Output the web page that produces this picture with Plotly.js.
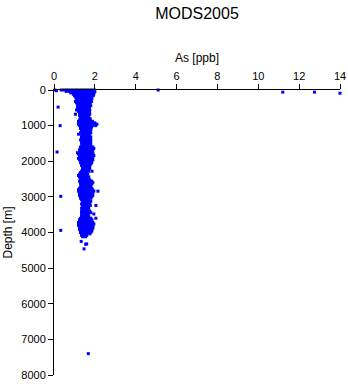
<!DOCTYPE html>
<html>
<head>
<meta charset="utf-8">
<script src="https://cdn.plot.ly/plotly-3.0.1.min.js"></script>
<style>html,body{margin:0;padding:0;background:#fff;}#chart{width:348px;height:384px;}</style>
</head>
<body>
<div id="chart"></div>
<script>
// Dense cloud: depth rows (m) and the As values (ppb) read at each row
const cloudDepth = [0,40,80,120,160,200,240,280,320,360,400,440,480,520,560,600,640,680,720,760,
800,840,880,920,960,1000,1040,1080,1120,1160,1200,1240,1280,1320,1360,1400,1440,1480,1520,1560,
1600,1640,1680,1720,1760,1800,1840,1880,1920,1960,2000,2040,2080,2120,2160,2200,2240,2280,2320,2360,
2400,2440,2480,2520,2560,2600,2640,2680,2720,2760,2800,2840,2880,2920,2960,3000,3040,3080,3120,3160,
3200,3240,3280,3320,3360,3400,3440,3480,3520,3560,3600,3640,3680,3720,3760,3800,3840,3880,3920,3960,
4000,4040,4080,4120];
const cloudAs = [
[0.35,0.48,0.6,0.72,0.85,0.98,1.1,1.22,1.35,1.48,1.6,1.72,1.85,1.98],
[0.6,0.75,0.88,1.0,1.12,1.25,1.38,1.5,1.62,1.75,1.88,2.0],
[0.82,0.95,1.08,1.2,1.33,1.46,1.58,1.7,1.83,1.96],
[0.95,1.08,1.2,1.33,1.45,1.58,1.7,1.82,1.94],
[1.0,1.13,1.26,1.38,1.5,1.63,1.76,1.92],
[1.05,1.18,1.3,1.43,1.56,1.7,1.84],
[1.1,1.23,1.36,1.48,1.6,1.72,1.85],
[1.12,1.25,1.38,1.5,1.63,1.78],
[1.05,1.18,1.3,1.43,1.56,1.7,1.84],
[1.1,1.23,1.36,1.5,1.64,1.78],
[1.15,1.28,1.4,1.52,1.64,1.75],
[1.16,1.3,1.43,1.56,1.68,1.8],
[1.2,1.33,1.46,1.6,1.74],
[1.15,1.28,1.4,1.53,1.66,1.7],
[1.1,1.23,1.36,1.5,1.62,1.75],
[1.2,1.33,1.46,1.6,1.74],
[1.25,1.38,1.5,1.62,1.7],
[1.05,1.26,1.4,1.53,1.66,1.75],
[1.25,1.38,1.5,1.62,1.7],
[1.3,1.42,1.55,1.68],
[1.3,1.42,1.55,1.66,1.76],
[1.25,1.38,1.5,1.63,1.78],
[1.2,1.33,1.46,1.6,1.74,1.88],
[1.2,1.33,1.46,1.6,1.74,1.88,2.0],
[1.2,1.33,1.46,1.6,1.73,1.86,1.98,2.1],
[1.25,1.38,1.5,1.63,1.76,1.9,2.04],
[1.3,1.43,1.56,1.7,1.84],
[1.3,1.43,1.56,1.68,1.8],
[1.35,1.48,1.6,1.72,1.8],
[1.35,1.48,1.6,1.74],
[1.3,1.43,1.56,1.68,1.8],
[1.2,1.4,1.52,1.64,1.75],
[1.35,1.48,1.6,1.7],
[1.35,1.48,1.6,1.72,1.8],
[1.35,1.48,1.6,1.74],
[1.3,1.43,1.56,1.68,1.8],
[1.35,1.48,1.6,1.74],
[1.35,1.48,1.6,1.72,1.8],
[1.4,1.52,1.64,1.75],
[1.35,1.48,1.6,1.72,1.8],
[1.3,1.43,1.56,1.68,1.8,1.9],
[1.3,1.43,1.56,1.7,1.83,1.95],
[1.25,1.38,1.5,1.63,1.76,1.9],
[1.3,1.43,1.56,1.7,1.85],
[1.15,1.25,1.38,1.5,1.63,1.76,1.9],
[1.2,1.33,1.46,1.6,1.74,1.9],
[1.25,1.38,1.5,1.63,1.76,1.88,1.95],
[1.25,1.38,1.5,1.63,1.76,1.9],
[1.2,1.33,1.46,1.6,1.74,1.88],
[1.25,1.38,1.5,1.63,1.76,1.9],
[1.3,1.43,1.56,1.7,1.85],
[1.3,1.43,1.56,1.7,1.84],
[1.35,1.48,1.6,1.72,1.8],
[1.35,1.48,1.6,1.75],
[1.4,1.52,1.64,1.7],
[1.4,1.52,1.64,1.75],
[1.4,1.52,1.64,1.7],
[1.35,1.48,1.6,1.7,1.86],
[1.3,1.42,1.55,1.6],
[1.25,1.38,1.5,1.65],
[1.2,1.33,1.46,1.6],
[1.25,1.38,1.5,1.62,1.7],
[1.3,1.42,1.55,1.7],
[1.3,1.43,1.56,1.68,1.75],
[1.25,1.38,1.5,1.63,1.76,1.85],
[1.3,1.43,1.56,1.7,1.82,1.9],
[1.3,1.43,1.56,1.7,1.85],
[1.35,1.48,1.6,1.72,1.8],
[1.3,1.43,1.56,1.68,1.75],
[1.25,1.38,1.5,1.63,1.76,1.85],
[1.2,1.33,1.46,1.6,1.74,1.9],
[1.2,1.33,1.46,1.6,1.74,1.86,1.95,2.15],
[1.25,1.38,1.5,1.63,1.76,1.9],
[1.25,1.38,1.5,1.63,1.76,1.85],
[1.25,1.38,1.5,1.63,1.76,1.9],
[1.3,1.43,1.56,1.7,1.85],
[1.3,1.43,1.56,1.68,1.8],
[1.35,1.48,1.6,1.7],
[1.4,1.52,1.64,1.76,1.8],
[1.4,1.52,1.64,1.7],
[1.35,1.48,1.6,1.75],
[1.4,1.52,1.64,1.78,2.05],
[1.4,1.52,1.65],
[1.35,1.48,1.6,1.7],
[1.4,1.52,1.65],
[1.35,1.48,1.6,1.75],
[1.35,1.48,1.6,1.72,1.8],
[1.4,1.52,1.64,1.7,1.95],
[1.35,1.48,1.6,1.65],
[1.35,1.48,1.6,1.7],
[1.3,1.43,1.56,1.68,1.8,2.05],
[1.25,1.38,1.5,1.63,1.76,1.85],
[1.25,1.38,1.5,1.63,1.76,1.85],
[1.2,1.33,1.46,1.6,1.74,1.9],
[1.2,1.33,1.46,1.6,1.74,1.86,1.95],
[1.2,1.33,1.46,1.6,1.74,1.9],
[1.25,1.38,1.5,1.63,1.76,1.9],
[1.25,1.38,1.5,1.63,1.76,1.9],
[1.25,1.38,1.5,1.63,1.76,1.85],
[1.3,1.43,1.56,1.7,1.85],
[1.3,1.43,1.56,1.68,1.8],
[1.35,1.48,1.6,1.75],
[1.35,1.48,1.6],
[1.4,1.55]
];
// Isolated samples
const outAs    = [0.05, 0.12, 0.2, 0.3, 0.15, 0.33, 0.33, 5.1, 11.2, 12.75, 14.0, 1.33, 1.6, 1.55, 1.47, 1.68];
const outDepth = [0,    20,   480, 1000, 1740, 2985, 3940, 0,  60,   60,    90,   4250, 4320, 4330, 4460, 7400];

const xTickVals = [0,2,4,6,8,10,12,14];
const yTickVals = [0,1000,2000,3000,4000,5000,6000,7000,8000];

const xs = [], ys = [];
cloudDepth.forEach((d, i) => { cloudAs[i].forEach(v => { xs.push(v); ys.push(d); }); });
outAs.forEach((v, i) => { xs.push(v); ys.push(outDepth[i]); });

const font = {family: '"Liberation Sans", Arial, Helvetica, sans-serif', color: '#000'};

Plotly.newPlot('chart', [{
  type: 'scatter', mode: 'markers', x: xs, y: ys, cliponaxis: false,
  marker: {symbol: 'square', size: 3, color: '#0000ff', line: {width: 0}},
  hoverinfo: 'skip'
}], {
  width: 348, height: 384,
  margin: {l: 54, r: 8, t: 90, b: 9, pad: 0},
  paper_bgcolor: '#fff', plot_bgcolor: '#fff',
  font: Object.assign({size: 11}, font),
  showlegend: false,
  title: {text: 'MODS2005', font: Object.assign({size: 16}, font), x: 197/348, xanchor: 'center', xref: 'container', y: 1 - 13/384, yanchor: 'middle', yref: 'container'},
  xaxis: {range: [0, 14], side: 'top', tickvals: xTickVals, ticktext: xTickVals.map(String),
    showline: true, linecolor: '#000', linewidth: 1, ticks: 'outside', ticklen: 5, tickcolor: '#000', tickwidth: 1,
    showgrid: false, zeroline: false, tickfont: Object.assign({size: 11}, font),
    title: {text: 'As [ppb]', font: Object.assign({size: 12}, font), standoff: 4}, fixedrange: true},
  yaxis: {range: [8000, 0], tickvals: yTickVals, ticktext: yTickVals.map(String),
    showline: true, linecolor: '#000', linewidth: 1, ticks: 'outside', ticklen: 5, tickcolor: '#000', tickwidth: 1,
    showgrid: false, zeroline: false, tickfont: Object.assign({size: 11}, font),
    title: {text: 'Depth [m]', font: Object.assign({size: 12}, font), standoff: 6}, fixedrange: true}
}, {staticPlot: true, displayModeBar: false});
</script>
</body>
</html>
